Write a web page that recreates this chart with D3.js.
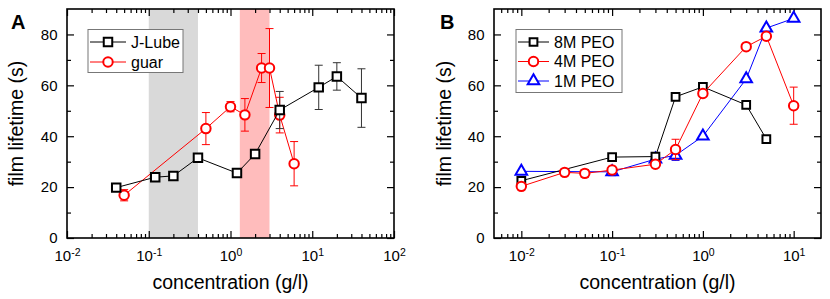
<!DOCTYPE html>
<html>
<head>
<meta charset="utf-8">
<script src="https://cdn.jsdelivr.net/npm/d3@7"></script>
<style>
  body { margin: 0; background: #fff; }
  text { font-family: "Liberation Sans", Arial, sans-serif; fill: #000; }
</style>
</head>
<body>
<script>
var width = 830;
var height = 299;

// panel A : J-Lube and guar
var jlubeConc = [0.04, 0.12, 0.2, 0.4, 1.2, 2, 4, 12, 20, 40];
var jlubeLife = [19.8, 23.9, 24.4, 31.5, 25.5, 33, 50.3, 59.2, 63.5, 55];
var jlubeErr = [1, 0.8, 0.8, 1.5, 1, 1, 7.3, 8.7, 5.4, 11.5];

var guarConc = [0.05, 0.5, 1, 1.5, 2.4, 3, 4, 6];
var guarLife = [16.8, 43, 51.6, 48.4, 66.8, 66.8, 48.3, 29.2];
var guarErr = [2.2, 6.3, 2, 6.4, 5.7, 15.5, 7, 8.7];

var grayBand = [0.1, 0.4];
var pinkBand = [1.3, 3.0];

// panel B : PEO
var peo8Conc = [0.01, 0.1, 0.3, 0.5, 1, 3, 5];
var peo8Life = [22.5, 31.8, 32, 55.5, 59.4, 52.3, 38.9];
var peo8Err = [1, 0.8, 0.8, 0, 0, 0.8, 0];

var peo4Conc = [0.01, 0.03, 0.05, 0.1, 0.3, 0.5, 1, 3, 5, 10];
var peo4Life = [20.3, 25.8, 25.4, 26.7, 29, 34.8, 56.8, 75.2, 79.3, 52];
var peo4Err = [1, 0.5, 1.5, 1.5, 1, 4, 1, 0.5, 1, 7.3];

var peo1Conc = [0.01, 0.1, 0.3, 0.5, 1, 3, 5, 10];
var peo1Life = [26.2, 26, 31, 32.5, 40, 62.5, 82.5, 86.3];
var peo1Err = [0, 1.5, 1, 2, 0, 0, 0, 0];

var yTicks = [0, 20, 40, 60, 80];
var yMinor = [10, 30, 50, 70];
var xTitle = 'concentration (g/l)';
var yTitle = 'film lifetime (s)';

var svg = d3.select('body').append('svg')
  .attr('width', width)
  .attr('height', height);

var plotTop = 9, plotBottom = 238;

var minorTicks = function(domain) {
  var out = [];
  for (var e = -3; e <= 2; e++) {
    for (var m = 2; m <= 9; m++) {
      var v = m * Math.pow(10, e);
      if (v > domain[0] * 1.0001 && v < domain[1] * 0.9999) out.push(v);
    }
  }
  return out;
};

var makePanel = function(opt) {
  var g = svg.append('g');
  var x = d3.scaleLog().domain(opt.xDomain).range([opt.left, opt.right]);
  var y = d3.scaleLinear().domain([0, 90]).range([plotBottom, plotTop]);

  // shaded bands
  (opt.bands || []).forEach(function(b) {
    g.append('rect')
      .attr('x', x(b.range[0]))
      .attr('y', plotTop)
      .attr('width', x(b.range[1]) - x(b.range[0]))
      .attr('height', plotBottom - plotTop)
      .attr('fill', b.color);
  });

  var major = opt.majorTicks;
  var minor = minorTicks(opt.xDomain);
  var bigT = -7, smallT = -4;

  // axes, ticks pointing inward on all four sides
  var bAx = g.append('g').attr('transform', 'translate(0,' + plotBottom + ')')
    .call(d3.axisBottom(x).tickValues(major).tickSize(bigT).tickPadding(12)
      .tickFormat(function() { return ''; }));
  g.append('g').attr('transform', 'translate(0,' + plotBottom + ')')
    .call(d3.axisBottom(x).tickValues(minor).tickSize(smallT).tickFormat(''));
  g.append('g').attr('transform', 'translate(0,' + plotTop + ')')
    .call(d3.axisTop(x).tickValues(major).tickSize(bigT).tickFormat(''));
  g.append('g').attr('transform', 'translate(0,' + plotTop + ')')
    .call(d3.axisTop(x).tickValues(minor).tickSize(smallT).tickFormat(''));

  g.append('g').attr('transform', 'translate(' + opt.left + ',0)')
    .call(d3.axisLeft(y).tickValues(yTicks).tickSize(bigT).tickPadding(9.5));
  g.append('g').attr('transform', 'translate(' + opt.left + ',0)')
    .call(d3.axisLeft(y).tickValues(yMinor).tickSize(smallT).tickFormat(''));
  g.append('g').attr('transform', 'translate(' + opt.right + ',0)')
    .call(d3.axisRight(y).tickValues(yTicks).tickSize(bigT).tickFormat(''));
  g.append('g').attr('transform', 'translate(' + opt.right + ',0)')
    .call(d3.axisRight(y).tickValues(yMinor).tickSize(smallT).tickFormat(''));

  g.selectAll('.domain').remove();
  g.selectAll('.tick line').attr('stroke', '#000').attr('stroke-width', 1.2);
  g.selectAll('.tick text').style('font-size', '15px')
    .style('font-family', '"Liberation Sans", Arial, sans-serif');

  // 10^n labels
  bAx.selectAll('.tick text').each(function(d) {
    var t = d3.select(this);
    t.text('10');
    t.append('tspan').text(Math.round(Math.log10(d)))
      .attr('dy', '-5').style('font-size', '10.5px');
  });

  // frame
  g.append('rect')
    .attr('x', opt.left).attr('y', plotTop)
    .attr('width', opt.right - opt.left).attr('height', plotBottom - plotTop)
    .attr('fill', 'none').attr('stroke', '#000').attr('stroke-width', 1.6);

  // titles
  g.append('text')
    .attr('x', (opt.left + opt.right) / 2).attr('y', 289)
    .attr('text-anchor', 'middle').style('font-size', '19.5px')
    .text(xTitle);
  g.append('text')
    .attr('transform', 'translate(' + opt.yTitleX + ',' + ((plotTop + plotBottom) / 2) + ') rotate(-90)')
    .attr('text-anchor', 'middle').style('font-size', '19.5px')
    .text(yTitle);
  g.append('text')
    .attr('x', opt.letterX).attr('y', 29)
    .style('font-size', '20px').style('font-weight', 'bold')
    .text(opt.letter);

  // series
  var line = d3.line()
    .x(function(d) { return x(d.c); })
    .y(function(d) { return y(d.v); });

  opt.series.forEach(function(s) {
    var data = s.conc.map(function(c, i) {
      return { c: c, v: s.life[i], e: s.err[i] };
    });
    var sg = g.append('g');
    sg.append('path').datum(data).attr('d', line)
      .attr('fill', 'none').attr('stroke', s.color).attr('stroke-width', 1);

    var eb = sg.selectAll('.err').data(data.filter(function(d) { return d.e > 0; }))
      .enter().append('g').attr('stroke', s.errColor || s.color).attr('stroke-width', 1);
    eb.append('line')
      .attr('x1', function(d) { return x(d.c); }).attr('x2', function(d) { return x(d.c); })
      .attr('y1', function(d) { return y(d.v + d.e); }).attr('y2', function(d) { return y(d.v - d.e); });
    [1, -1].forEach(function(sgn) {
      eb.append('line')
        .attr('x1', function(d) { return x(d.c) - 4; }).attr('x2', function(d) { return x(d.c) + 4; })
        .attr('y1', function(d) { return y(d.v + sgn * d.e); }).attr('y2', function(d) { return y(d.v + sgn * d.e); });
    });

    sg.selectAll('.mk').data(data).enter().append('path')
      .attr('d', d3.symbol().type(s.symbol).size(s.size))
      .attr('transform', function(d) { return 'translate(' + x(d.c) + ',' + y(d.v) + ')'; })
      .attr('fill', '#fff').attr('stroke', s.color).attr('stroke-width', 2);
  });

  // legend
  var L = opt.legend;
  g.append('rect')
    .attr('x', L.x).attr('y', L.y).attr('width', L.w).attr('height', L.h)
    .attr('fill', '#fff').attr('stroke', '#777').attr('stroke-width', 1);
  L.items.forEach(function(idx, k) {
    var s = opt.series[idx];
    var yy = L.y + 12.5 + k * L.step;
    g.append('line')
      .attr('x1', L.x + 2).attr('x2', L.x + L.lineLen)
      .attr('y1', yy).attr('y2', yy)
      .attr('stroke', s.color).attr('stroke-width', 1);
    g.append('path')
      .attr('d', d3.symbol().type(s.symbol).size(s.size))
      .attr('transform', 'translate(' + (L.x + 2 + L.lineLen / 2 - 1) + ',' + yy + ')')
      .attr('fill', '#fff').attr('stroke', s.color).attr('stroke-width', 2);
    g.append('text')
      .attr('x', L.x + L.lineLen + 5).attr('y', yy + 5.5)
      .style('font-size', '16px')
      .text(s.name);
  });
};

makePanel({
  left: 67, right: 394,
  xDomain: [0.01, 100],
  majorTicks: [0.01, 0.1, 1, 10, 100],
  letter: 'A', letterX: 11, yTitleX: 23,
  bands: [
    { range: grayBand, color: '#d9d9d9' },
    { range: pinkBand, color: '#ffbcbc' }
  ],
  series: [
    { name: 'guar', conc: guarConc, life: guarLife, err: guarErr,
      color: '#ff0000', symbol: d3.symbolCircle, size: 70 },
    { name: 'J-Lube', conc: jlubeConc, life: jlubeLife, err: jlubeErr,
      color: '#000000', errColor: '#333', symbol: d3.symbolSquare, size: 72 }
  ],
  legend: { x: 88, y: 29.5, w: 95, h: 43, step: 20, lineLen: 38, items: [1, 0] }
});

makePanel({
  left: 494, right: 821,
  xDomain: [0.005, 20],
  majorTicks: [0.01, 0.1, 1, 10],
  letter: 'B', letterX: 440, yTitleX: 451,
  series: [
    { name: '1M PEO', conc: peo1Conc, life: peo1Life, err: peo1Err,
      color: '#0000ff', symbol: d3.symbolTriangle, size: 58 },
    { name: '8M PEO', conc: peo8Conc, life: peo8Life, err: peo8Err,
      color: '#000000', symbol: d3.symbolSquare, size: 60 },
    { name: '4M PEO', conc: peo4Conc, life: peo4Life, err: peo4Err,
      color: '#ff0000', symbol: d3.symbolCircle, size: 70 }
  ],
  legend: { x: 516, y: 29.5, w: 106, h: 63, step: 19.5, lineLen: 33, items: [1, 2, 0] }
});
</script>
</body>
</html>
